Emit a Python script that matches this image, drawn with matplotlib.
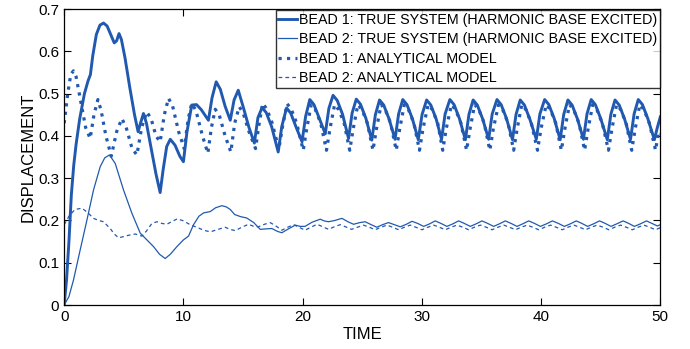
import matplotlib
matplotlib.use("Agg")
import matplotlib.pyplot as plt

plt.rcParams['font.family'] = ['Liberation Sans', 'DejaVu Sans']

# Bead 1, true system (thick solid)
t_b1_true = [0.0, 0.2, 0.4, 0.6, 0.8, 1.0, 1.3, 1.7, 2.0, 2.2, 2.4, 2.7, 3.0, 3.3, 3.6, 3.9,
             4.2, 4.4, 4.6, 4.8, 5.1, 5.5, 5.9, 6.2, 6.4, 6.65, 6.9, 7.3, 7.7, 8.05, 8.3, 8.6,
             8.9, 9.3, 9.7, 10.0, 10.3, 10.7, 11.1, 11.5, 12.1, 12.4, 12.75, 13.1, 13.5, 13.93,
             14.25, 14.6, 15.0, 15.5, 15.95,
             16.25, 16.6, 16.95, 17.4, 17.95,
             18.25, 18.65, 19.0, 19.45, 19.95,
             20.25, 20.6, 20.95, 21.4, 21.9,
             22.2, 22.55, 22.9, 23.35, 23.85,
             24.15, 24.5, 24.85, 25.3, 25.8,
             26.1, 26.45, 26.8, 27.25, 27.75,
             28.05, 28.4, 28.75, 29.2, 29.7,
             30.02, 30.4, 30.75, 31.2, 31.65,
             31.95, 32.35, 32.7, 33.15, 33.65,
             33.95, 34.3, 34.65, 35.1, 35.6,
             35.9, 36.3, 36.65, 37.1, 37.6,
             37.9, 38.25, 38.6, 39.05, 39.6,
             39.9, 40.3, 40.65, 41.1, 41.6,
             41.9, 42.25, 42.6, 43.05, 43.55,
             43.85, 44.2, 44.55, 45.0, 45.55,
             45.85, 46.2, 46.55, 47.0, 47.5,
             47.8, 48.15, 48.5, 48.95, 49.5,
             49.75, 50.0]
y_b1_true = [0.0, 0.06, 0.15, 0.26, 0.33, 0.38, 0.44, 0.5, 0.53, 0.545, 0.59, 0.64, 0.662, 0.667, 0.66, 0.64,
             0.62, 0.625, 0.642, 0.628, 0.585, 0.515, 0.45, 0.41, 0.43, 0.453, 0.43, 0.37, 0.31, 0.266, 0.32, 0.375,
             0.392, 0.378, 0.352, 0.339, 0.41, 0.473, 0.474, 0.462, 0.437, 0.49, 0.528, 0.51, 0.47, 0.437,
             0.485, 0.508, 0.47, 0.42, 0.383,
             0.443, 0.467, 0.455, 0.422, 0.362,
             0.422, 0.466, 0.454, 0.421, 0.386,
             0.446, 0.486, 0.474, 0.441, 0.405,
             0.465, 0.496, 0.484, 0.451, 0.394,
             0.454, 0.487, 0.475, 0.442, 0.39,
             0.45, 0.485, 0.473, 0.44, 0.392,
             0.452, 0.486, 0.474, 0.441, 0.391,
             0.451, 0.485, 0.473, 0.44, 0.392,
             0.452, 0.486, 0.474, 0.441, 0.391,
             0.451, 0.485, 0.473, 0.44, 0.392,
             0.452, 0.486, 0.474, 0.441, 0.391,
             0.451, 0.485, 0.473, 0.44, 0.392,
             0.452, 0.486, 0.474, 0.441, 0.391,
             0.451, 0.485, 0.473, 0.44, 0.392,
             0.452, 0.486, 0.474, 0.441, 0.391,
             0.451, 0.485, 0.473, 0.44, 0.392,
             0.452, 0.486, 0.474, 0.441, 0.391,
             0.42, 0.445]

# Bead 2, true system (thin solid)
t_b2_true = [0.0, 0.4, 0.78, 1.34, 1.9, 2.46, 3.02, 3.4, 3.8, 4.28, 4.98, 5.68, 6.38, 6.8, 7.5, 8.0,
             8.47, 8.9, 9.45, 10.0, 10.43, 10.85, 11.3, 11.7, 12.25, 12.7, 13.23, 13.6, 13.93, 14.3,
             14.8, 15.3, 15.9, 16.44, 16.9, 17.42, 17.9, 18.26, 18.8, 19.38, 19.8, 20.2, 20.8, 21.48,
             21.8, 22.17, 22.7, 23.3, 23.8, 24.27, 24.8, 25.25, 25.75, 26.23, 26.7, 27.2, 27.7, 28.19,
             28.7, 29.17, 29.65, 30.15, 30.65, 31.12, 31.6, 32.1, 32.6, 33.08, 33.56, 34.06, 34.55,
             35.04, 35.52, 36.02, 36.5, 37.0, 37.48, 37.98, 38.46, 38.96, 39.45, 39.94, 40.45, 40.95,
             41.45, 41.95, 42.45, 42.95, 43.42, 43.9, 44.4, 44.9, 45.38, 45.86, 46.35, 46.88, 47.35,
             47.82, 48.33, 48.84, 49.3, 49.75, 50.0]
y_b2_true = [0.0, 0.02, 0.059, 0.13, 0.2, 0.272, 0.327, 0.348, 0.355, 0.335, 0.272, 0.217, 0.17, 0.158, 0.138, 0.12,
             0.11, 0.12, 0.138, 0.154, 0.163, 0.19, 0.21, 0.218, 0.221, 0.23, 0.235, 0.232, 0.226, 0.214,
             0.209, 0.206, 0.195, 0.179, 0.18, 0.181, 0.174, 0.171, 0.18, 0.189, 0.186, 0.186, 0.196, 0.203,
             0.199, 0.197, 0.2, 0.205, 0.197, 0.191, 0.195, 0.197, 0.19, 0.184, 0.19, 0.195, 0.19, 0.185,
             0.191, 0.198, 0.193, 0.186, 0.192, 0.199, 0.193, 0.186, 0.192, 0.199, 0.193, 0.186, 0.192,
             0.199, 0.193, 0.186, 0.192, 0.199, 0.193, 0.186, 0.192, 0.199, 0.193, 0.186, 0.192, 0.199,
             0.193, 0.186, 0.192, 0.199, 0.193, 0.186, 0.192, 0.199, 0.193, 0.186, 0.192, 0.199, 0.193,
             0.186, 0.192, 0.199, 0.193, 0.187, 0.19]

# Bead 1, analytical model (thick dotted)
t_b1_model = [0.0, 0.3, 0.55, 0.78, 1.0, 1.4, 1.8, 2.18, 2.5, 2.83, 3.1, 3.5, 3.95, 4.4, 4.84, 5.2,
              5.7, 6.1, 6.5, 6.93, 7.3, 7.7, 8.05, 8.4, 8.75, 9.1, 9.6, 10.07, 10.4, 10.7, 11.05,
              11.6, 12.05, 12.35, 12.67, 13.0, 13.5, 13.98, 14.3, 14.68, 15.0, 15.5, 16.05,
              16.3, 16.65, 17.0, 17.45, 18.0,
              18.3, 18.7, 19.05, 19.5, 20.05,
              20.35, 20.72, 21.07, 21.52, 22.0,
              22.3, 22.68, 23.03, 23.48, 23.95,
              24.25, 24.63, 24.98, 25.43, 25.9,
              26.2, 26.58, 26.93, 27.38, 27.85,
              28.15, 28.53, 28.88, 29.33, 29.8,
              30.1, 30.53, 30.88, 31.33, 31.75,
              32.05, 32.48, 32.83, 33.28, 33.75,
              34.05, 34.43, 34.78, 35.23, 35.7,
              36.0, 36.43, 36.78, 37.23, 37.7,
              38.0, 38.38, 38.73, 39.18, 39.7,
              40.0, 40.43, 40.78, 41.23, 41.7,
              42.0, 42.38, 42.73, 43.18, 43.65,
              43.95, 44.33, 44.68, 45.13, 45.65,
              45.95, 46.33, 46.68, 47.13, 47.6,
              47.9, 48.28, 48.63, 49.08, 49.6,
              49.85, 50.0]
y_b1_model = [0.43, 0.5, 0.545, 0.554, 0.54, 0.48, 0.42, 0.394, 0.45, 0.486, 0.46, 0.4, 0.352, 0.41, 0.441, 0.42,
              0.37, 0.355, 0.42, 0.457, 0.44, 0.4, 0.386, 0.45, 0.489, 0.47, 0.41, 0.37, 0.44, 0.477, 0.46,
              0.4, 0.359, 0.42, 0.463, 0.45, 0.4, 0.362, 0.43, 0.469, 0.455, 0.41, 0.37,
              0.42, 0.477, 0.463, 0.43, 0.368,
              0.42, 0.476, 0.463, 0.43, 0.366,
              0.418, 0.474, 0.462, 0.43, 0.366,
              0.418, 0.474, 0.462, 0.43, 0.366,
              0.418, 0.474, 0.462, 0.43, 0.366,
              0.418, 0.474, 0.462, 0.43, 0.366,
              0.418, 0.474, 0.462, 0.43, 0.366,
              0.418, 0.474, 0.462, 0.43, 0.366,
              0.418, 0.474, 0.462, 0.43, 0.366,
              0.418, 0.474, 0.462, 0.43, 0.366,
              0.418, 0.474, 0.462, 0.43, 0.366,
              0.418, 0.474, 0.462, 0.43, 0.366,
              0.418, 0.474, 0.462, 0.43, 0.366,
              0.418, 0.474, 0.462, 0.43, 0.366,
              0.418, 0.474, 0.462, 0.43, 0.366,
              0.418, 0.474, 0.462, 0.43, 0.366,
              0.418, 0.474, 0.462, 0.43, 0.366,
              0.41, 0.405]

# Bead 2, analytical model (thin dashed)
t_b2_model = [0.0, 0.4, 0.9, 1.5, 2.0, 2.46, 2.9, 3.3, 3.86, 4.2, 4.56, 5.0, 5.4, 5.96, 6.52, 6.9,
              7.36, 7.78, 8.2, 8.61, 9.0, 9.5, 10.0, 10.57, 11.2, 11.7, 12.25, 12.8, 13.5, 13.9,
              14.35, 14.9, 15.46, 15.9, 16.3, 16.8, 17.28, 17.75, 18.26, 18.75, 19.24, 19.7, 20.2,
              20.7, 21.2, 21.7, 22.17, 22.65, 23.15, 23.6, 24.1, 24.6, 25.1, 25.6, 26.08, 26.57,
              27.07, 27.55, 28.05, 28.53, 29.03, 29.5, 30.0, 30.5, 30.99, 31.47, 31.97, 32.45, 32.95,
              33.43, 33.93, 34.4, 34.91, 35.4, 35.89, 36.38, 36.87, 37.35, 37.85, 38.33, 38.83, 39.3,
              39.8, 40.3, 40.79, 41.27, 41.77, 42.25, 42.75, 43.23, 43.73, 44.2, 44.71, 45.2, 45.69,
              46.17, 46.67, 47.15, 47.65, 48.13, 48.63, 49.1, 49.6, 50.0]
y_b2_model = [0.19, 0.21, 0.226, 0.229, 0.218, 0.205, 0.2, 0.197, 0.181, 0.168, 0.159, 0.162, 0.165, 0.168, 0.163, 0.175,
              0.193, 0.197, 0.193, 0.191, 0.197, 0.204, 0.199, 0.19, 0.183, 0.177, 0.173, 0.178, 0.184, 0.179,
              0.176, 0.184, 0.191, 0.186, 0.185, 0.191, 0.195, 0.187, 0.177, 0.184, 0.19, 0.184, 0.177,
              0.184, 0.191, 0.185, 0.179, 0.185, 0.19, 0.185, 0.179, 0.184, 0.189, 0.184, 0.178, 0.184,
              0.189, 0.184, 0.178, 0.184, 0.189, 0.184, 0.178, 0.184, 0.189, 0.184, 0.178, 0.184, 0.189,
              0.184, 0.178, 0.184, 0.189, 0.184, 0.178, 0.184, 0.189, 0.184, 0.178, 0.184, 0.189, 0.184,
              0.178, 0.184, 0.189, 0.184, 0.178, 0.184, 0.189, 0.184, 0.178, 0.184, 0.189, 0.184, 0.178,
              0.184, 0.189, 0.184, 0.178, 0.184, 0.189, 0.184, 0.178, 0.183]

labels = ['BEAD 1: TRUE SYSTEM (HARMONIC BASE EXCITED)',
          'BEAD 2: TRUE SYSTEM (HARMONIC BASE EXCITED)',
          'BEAD 1: ANALYTICAL MODEL',
          'BEAD 2: ANALYTICAL MODEL']

blue = '#2159b0'

fig = plt.figure(figsize=(6.9, 3.49), dpi=100)
ax = fig.add_axes([0.093, 0.126, 0.864, 0.848])

ax.plot(t_b1_true, y_b1_true, '-', color=blue, lw=2.1, label=labels[0])
ax.plot(t_b2_true, y_b2_true, '-', color=blue, lw=0.9, label=labels[1])
ax.plot(t_b1_model, y_b1_model, ':', color=blue, lw=2.3, label=labels[2])
ax.plot(t_b2_model, y_b2_model, '--', color=blue, lw=0.9, dashes=(3, 2.5), label=labels[3])

ax.set_xlim(0, 50)
ax.set_ylim(0, 0.7)
ax.set_xticks([0, 10, 20, 30, 40, 50])
ax.set_yticks([0, 0.1, 0.2, 0.3, 0.4, 0.5, 0.6, 0.7])
ax.set_yticklabels(['0', '0.1', '0.2', '0.3', '0.4', '0.5', '0.6', '0.7'])
ax.tick_params(direction='in', top=True, right=True, labelsize=11, length=5, width=0.8)
for s in ax.spines.values():
    s.set_linewidth(0.9)

ax.set_xlabel('TIME', fontsize=12, labelpad=2)
ax.set_ylabel('DISPLACEMENT', fontsize=12, labelpad=2)

leg = ax.legend(loc='upper right', fontsize=10.3, frameon=True, fancybox=False,
                handlelength=1.3, handletextpad=0.1, borderpad=0.2, labelspacing=0.38,
                borderaxespad=0.05)
leg.get_frame().set_edgecolor('black')
leg.get_frame().set_linewidth(1.0)

fig.savefig('out.png', dpi=100)
